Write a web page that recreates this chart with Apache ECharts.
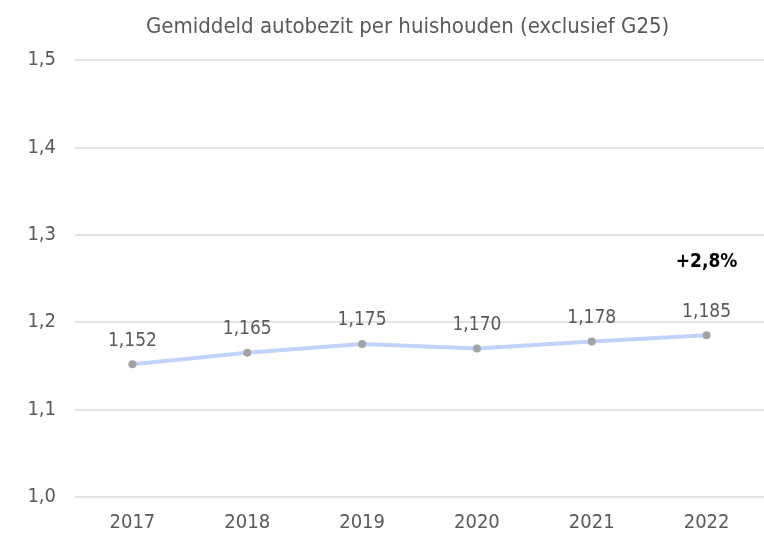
<!DOCTYPE html>
<html>
<head>
<meta charset="utf-8">
<script src="https://cdn.jsdelivr.net/npm/echarts@6/dist/echarts.min.js"></script>
<style>
  html, body { margin: 0; padding: 0; background: #fff; }
  #chart { width: 764px; height: 534px; }
</style>
</head>
<body>
<div id="chart"></div>
<script>
const years = ['2017', '2018', '2019', '2020', '2021', '2022'];
const autobezit = [1.152, 1.165, 1.175, 1.170, 1.178, 1.185];
const groeiLabel = '+2,8%';

const FONT = '"Liberation Sans Narrow", "DejaVu Sans Condensed", Roboto, sans-serif';
const komma = (v, d) => v.toFixed(d).replace('.', ',');

const chart = echarts.init(document.getElementById('chart'));

chart.setOption({
  backgroundColor: '#fff',
  animation: false,
  title: {
    text: 'Gemiddeld autobezit per huishouden (exclusief G25)',
    left: 141,
    top: 11,
    textStyle: { fontFamily: FONT, fontSize: 22, fontWeight: 'normal', color: '#595959' }
  },
  grid: { left: 75, right: 0, top: 60, bottom: 37 },
  xAxis: {
    type: 'category',
    data: years,
    axisLine: { show: false },
    axisTick: { show: false },
    axisLabel: { fontFamily: FONT, fontSize: 20, color: '#595959', margin: 16 }
  },
  yAxis: {
    type: 'value',
    min: 1.0,
    max: 1.5,
    interval: 0.1,
    axisLine: { show: false },
    axisTick: { show: false },
    splitLine: { lineStyle: { color: '#d9d9d9', width: 1.5 } },
    axisLabel: {
      fontFamily: FONT, fontSize: 20, color: '#595959', margin: 19,
      formatter: v => komma(v, 1)
    }
  },
  series: [{
    type: 'line',
    data: autobezit,
    symbol: 'circle',
    symbolSize: 8,
    lineStyle: { color: '#c2d3fb', width: 4 },
    itemStyle: { color: '#a3a3a3' },
    label: {
      show: true,
      position: 'top',
      distance: 10,
      fontFamily: FONT,
      fontSize: 19,
      color: '#595959',
      formatter: p => komma(p.value, 3)
    },
    markPoint: {
      symbol: 'circle',
      symbolSize: 0,
      data: [{ coord: [years.length - 1, autobezit[autobezit.length - 1]] }],
      label: {
        show: true,
        formatter: groeiLabel,
        offset: [0, -73],
        fontFamily: FONT,
        fontSize: 19,
        fontWeight: 'bold',
        color: '#000'
      }
    }
  }]
});
</script>
</body>
</html>
